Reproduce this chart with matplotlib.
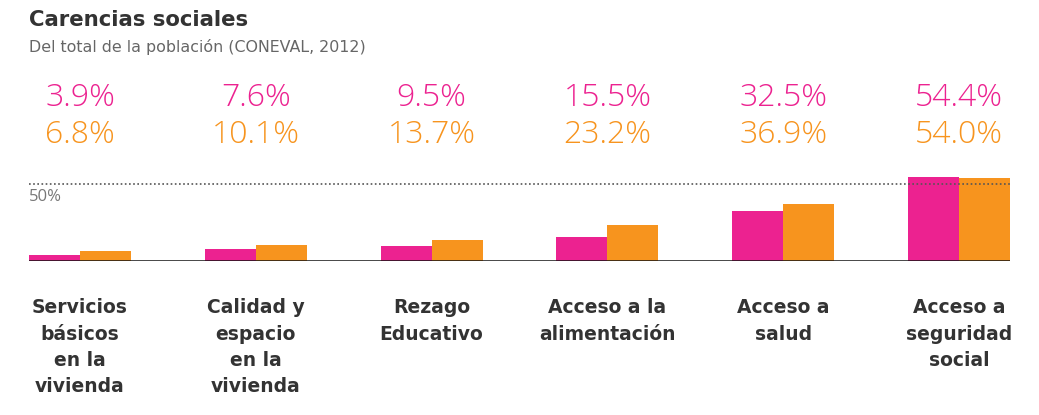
import matplotlib.pyplot as plt
import matplotlib.transforms as mtransforms
import numpy as np

# data
categorias = ['Servicios\nbásicos\nen la\nvivienda', 'Calidad y\nespacio\nen la\nvivienda',
              'Rezago\nEducativo', 'Acceso a la\nalimentación', 'Acceso a\nsalud',
              'Acceso a\nseguridad\nsocial']
serie_rosa = [3.9, 7.6, 9.5, 15.5, 32.5, 54.4]
serie_naranja = [6.8, 10.1, 13.7, 23.2, 36.9, 54.0]

ROSA = '#EC2290'
NARANJA = '#F7941E'
LIGERA = ['Open Sans', 'DejaVu Sans']
ANCHA = ['DejaVu Sans']

W, H = 1039, 415
fig = plt.figure(figsize=(W / 100, H / 100), dpi=100)
# axes placed in pixel terms: baseline at y=261, top at y=70
ax = fig.add_axes([29 / W, (H - 261) / H, 981 / W, 191 / H])

x = np.arange(len(categorias))
ancho = 0.29
ax.bar(x - ancho / 2, serie_rosa, ancho, color=ROSA)
ax.bar(x + ancho / 2, serie_naranja, ancho, color=NARANJA)

ax.set_xlim(-0.29, 5.29)
ax.set_ylim(0, 124)
ax.axhline(50, color='#555555', lw=1.2, ls=(0, (1, 1.5)))
ax.axhline(0, color='#111111', lw=1.8)
ax.text(-0.29, 47, '50%', color='#777777', fontsize=12, family=LIGERA,
        va='top', ha='left')
ax.axis('off')

# labels above and below in figure-y coordinates
tr = mtransforms.blended_transform_factory(ax.transData, fig.transFigure)
for i in range(len(categorias)):
    ax.text(x[i], 1 - 98 / H, f'{serie_rosa[i]:.1f}%', color=ROSA, fontsize=23,
            family=LIGERA, fontweight=300, ha='center', va='center', transform=tr)
    ax.text(x[i], 1 - 135 / H, f'{serie_naranja[i]:.1f}%', color=NARANJA, fontsize=23,
            family=LIGERA, fontweight=300, ha='center', va='center', transform=tr)
    ax.text(x[i], 1 - 298 / H, categorias[i], color='#333333', fontsize=13.5,
            family=ANCHA, fontweight='bold', ha='center', va='top',
            linespacing=1.5, transform=tr)

fig.text(29 / W, 1 - 20 / H, 'Carencias sociales', fontsize=15.3, fontweight='bold',
         family=ANCHA, color='#333333', va='center', ha='left')
fig.text(29 / W, 1 - 47 / H, 'Del total de la población (CONEVAL, 2012)', fontsize=11.4,
         family=ANCHA, color='#666666', va='center', ha='left')

fig.savefig('out.png', dpi=100)
